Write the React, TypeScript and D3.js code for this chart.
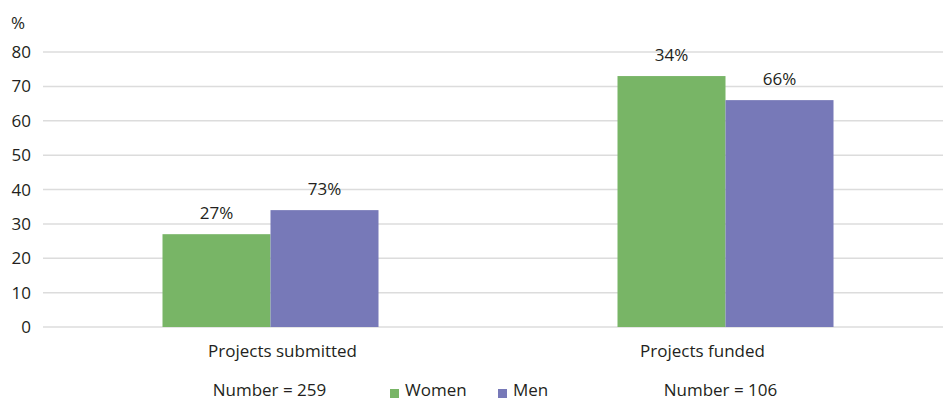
import React from "react";
import * as d3 from "d3";

const categories = ["Projects submitted", "Projects funded"];
const series = ["Women", "Men"];
const women = [27, 73];
const men = [34, 66];
const womenLabels = ["27%", "34%"];
const menLabels = ["73%", "66%"];
const numbers = ["Number = 259", "Number = 106"];
const yTicks = [0, 10, 20, 30, 40, 50, 60, 70, 80];

const W = 943;
const H = 401;
const colors = { Women: "#78b566", Men: "#7779b8" };
const font = "'Open Sans', sans-serif";
const fs = 17;
const ink = "#231f20";

export default function App() {
  const x = d3.scaleBand<string>().domain(categories).range([43, 953]);
  const y = d3.scaleLinear().domain([0, 80]).range([327, 52]);
  const barW = 108;
  const values = [women, men];
  const labels = [womenLabels, menLabels];
  const catLabelOffset = [12, -23];
  const numOffset = [-1, -5];
  return (
    <div style={{ position: "absolute", left: 0, top: 0 }}>
      <svg width={W} height={H} style={{ display: "block" }}>
        <rect width={W} height={H} fill="#fff" />
        <text x={11} y={29} fontFamily={font} fontSize={fs} fill={ink}>%</text>
        {yTicks.map((t) => (
          <g key={t}>
            <line x1={43} x2={W} y1={y(t)} y2={y(t)} stroke="#dcdcdc" strokeWidth={1.5} />
            <text x={31} y={y(t)} dy="0.36em" textAnchor="end" fontFamily={font} fontSize={fs} fill={ink}>{t}</text>
          </g>
        ))}
        {categories.map((c, i) => {
          const cx = x(c)! + x.bandwidth() / 2;
          return (
            <g key={c}>
              {series.map((s, j) => {
                const bx = cx - barW + j * barW;
                const v = values[j][i];
                return (
                  <g key={s}>
                    <rect x={bx} y={y(v)} width={barW} height={y(0) - y(v)} fill={(colors as any)[s]} />
                    <text x={bx + barW / 2} y={y(v) - 15} textAnchor="middle" fontFamily={font} fontSize={fs} fill={ink}>{labels[j][i]}</text>
                  </g>
                );
              })}
              <text x={cx + catLabelOffset[i]} y={357} textAnchor="middle" fontFamily={font} fontSize={fs} fill={ink}>{c}</text>
              <text x={cx + numOffset[i]} y={396} textAnchor="middle" fontFamily={font} fontSize={fs} fill={ink}>{numbers[i]}</text>
            </g>
          );
        })}
        {series.map((s, j) => {
          const lx = [390, 498][j];
          return (
            <g key={s}>
              <rect x={lx} y={389} width={9} height={9} fill={(colors as any)[s]} />
              <text x={lx + 15} y={396} fontFamily={font} fontSize={fs} fill={ink}>{s}</text>
            </g>
          );
        })}
      </svg>
    </div>
  );
}
